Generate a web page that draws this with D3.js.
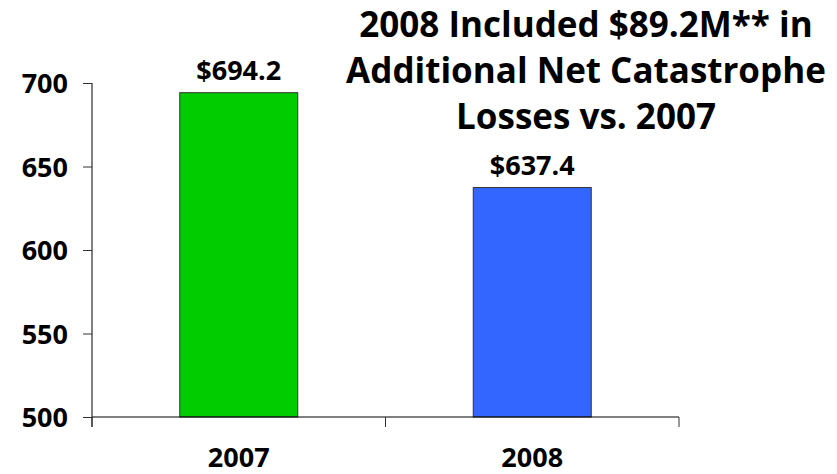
<!DOCTYPE html>
<html>
<head>
<meta charset="utf-8">
<script src="https://cdn.jsdelivr.net/npm/d3@7"></script>
<style>
	body { margin: 0; background: #fff; }
	svg text { font-family: 'Open Sans', 'DejaVu Sans', sans-serif; font-weight: bold; fill: #000; }
</style>
</head>
<body>
<svg id="chart"></svg>
<script>
// chart values
const years = ['2007', '2008'];
const amounts = [694.2, 637.4];
const amountLabels = ['$694.2', '$637.4'];
const barColors = ['#00cc00', '#3366ff'];
const yTicks = [500, 550, 600, 650, 700];
const titleLines = ['2008 Included $89.2M** in', 'Additional Net Catastrophe', 'Losses vs. 2007'];

const vWidth = 837;
const vHeight = 474;

const svg = d3.select('#chart')
	.attr('width', vWidth)
	.attr('height', vHeight);

const y = d3.scaleLinear()
	.domain([500, 700])
	.range([417, 83]);

const x = d3.scaleBand()
	.domain(years)
	.range([92, 679])
	.padding(0);

const barW = x.bandwidth() * 0.402;

// bars
svg.selectAll('rect.bar')
	.data(years)
	.enter()
	.append('rect')
	.attr('class', 'bar')
	.attr('x', function(d) { return x(d) + (x.bandwidth() - barW) / 2; })
	.attr('y', function(d, i) { return y(amounts[i]); })
	.attr('width', barW)
	.attr('height', function(d, i) { return y(500) - y(amounts[i]); })
	.attr('fill', function(d, i) { return barColors[i]; })
	.attr('stroke', '#333')
	.attr('stroke-width', 1);

// value labels
svg.selectAll('text.val')
	.data(years)
	.enter()
	.append('text')
	.attr('class', 'val')
	.attr('x', function(d) { return x(d) + x.bandwidth() / 2; })
	.attr('y', function(d, i) { return y(amounts[i]) - 13; })
	.attr('text-anchor', 'middle')
	.style('font-size', '27px')
	.text(function(d, i) { return amountLabels[i]; });

// y axis
const yAxis = svg.append('g')
	.attr('transform', 'translate(92,0)')
	.call(d3.axisLeft(y).tickValues(yTicks).tickSize(9).tickPadding(15).tickFormat(d3.format('d')));
yAxis.select('.domain').attr('d', 'M0,83V427').attr('stroke', '#000');
yAxis.selectAll('.tick line').attr('stroke', '#333');
yAxis.selectAll('.tick text')
	.attr('dy', '0.36em')
	.style('font-size', '27px')
	.style('font-family', null);

// x axis: line, boundary ticks, labels
const xAxis = svg.append('g').attr('transform', 'translate(0,417)');
xAxis.append('line')
	.attr('x1', x.range()[0]).attr('x2', x.range()[1])
	.attr('stroke', '#000');
const bounds = years.map(function(d) { return x(d); }).concat([x.range()[1]]);
xAxis.selectAll('line.tk')
	.data(bounds)
	.enter()
	.append('line')
	.attr('class', 'tk')
	.attr('x1', function(d) { return d; })
	.attr('x2', function(d) { return d; })
	.attr('y1', 0)
	.attr('y2', 10)
	.attr('stroke', '#333');
xAxis.selectAll('text.cat')
	.data(years)
	.enter()
	.append('text')
	.attr('class', 'cat')
	.attr('x', function(d) { return x(d) + x.bandwidth() / 2; })
	.attr('y', 50)
	.attr('text-anchor', 'middle')
	.style('font-size', '27px')
	.text(function(d) { return d; });

// title block
svg.append('text')
	.attr('x', 586)
	.attr('y', 37)
	.attr('text-anchor', 'middle')
	.style('font-size', '35px')
	.selectAll('tspan')
	.data(titleLines)
	.enter()
	.append('tspan')
	.attr('x', 586)
	.attr('dy', function(d, i) { return i ? 46 : 0; })
	.text(function(d) { return d; });
</script>
</body>
</html>
